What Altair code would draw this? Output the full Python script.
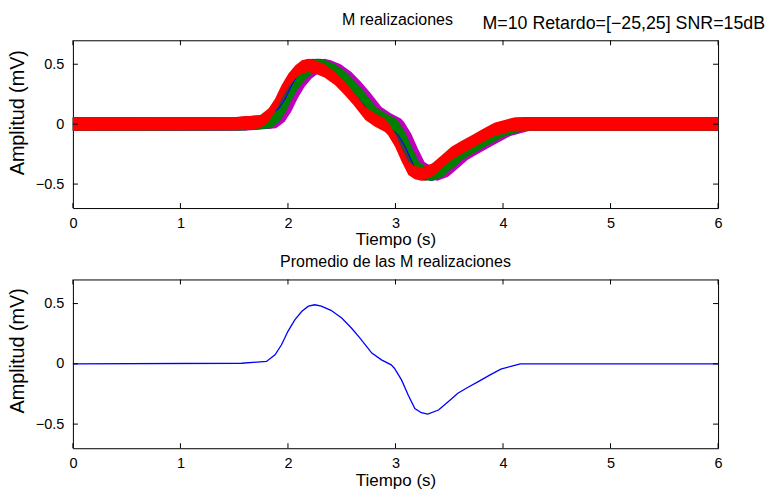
import altair as alt
import pandas as pd

# ---- data ----
# averaged trace (lower panel), also the base shape of each realization
t_base = [-0.2, 0.0, 1.57, 1.80, 1.88, 1.94, 2.00, 2.065, 2.13, 2.19, 2.25, 2.31, 2.40,
          2.50, 2.59, 2.67, 2.78, 2.87, 2.96, 2.99, 3.056, 3.118, 3.18, 3.24, 3.30,
          3.40, 3.49, 3.58, 3.675, 3.77, 3.88, 3.98, 4.10, 4.16, 6.0, 6.2]
v_base = [0, 0, 0.005, 0.02, 0.075, 0.158, 0.27, 0.367, 0.436, 0.478, 0.49, 0.478, 0.444,
          0.38, 0.297, 0.214, 0.089, 0.033, -0.008, -0.036, -0.133, -0.258, -0.37, -0.405, -0.417,
          -0.383, -0.314, -0.244, -0.194, -0.147, -0.092, -0.044, -0.014, 0, 0, 0]

# the 10 realizations: delay (s) of each one
series_names = ["r01", "r02", "r03", "r04", "r05", "r06", "r07", "r08", "r09", "r10"]
series_colors = ["#0000ff", "#008000", "#ff0000", "#00bfbf", "#bf00bf",
                 "#bfbf00", "#404040", "#0000ff", "#008000", "#ff0000"]
delays = [0.05, 0.02, -0.04, 0.0, 0.09, 0.01, -0.02, 0.03, 0.04, -0.06]
noise_half = 0.055  # half width of the noise band (mV)

xticks = [0, 1, 2, 3, 4, 5, 6]
yticks = [-0.5, 0, 0.5]

title_top = "M realizaciones"
info_text = "M=10 Retardo=[\u221225,25] SNR=15dB"
title_bottom = "Promedio de las M realizaciones"
x_title = "Tiempo (s)"
y_title = "Amplitud (mV)"

# ---- tables ----
rows = []
for name, d in zip(series_names, delays):
    for t, v in zip(t_base, v_base):
        rows.append({"serie": name, "t": t + d, "lo": v - noise_half, "hi": v + noise_half})
top_df = pd.DataFrame(rows)
avg_df = pd.DataFrame({"t": t_base, "lo": v_base})
xt_df = pd.DataFrame({"t": xticks})
yt_df = pd.DataFrame({"lo": yticks})
head_df = pd.DataFrame({"label": [title_top]})
info_df = pd.DataFrame({"label": [info_text]})

# ---- style ----
W, H1, H2 = 646, 168, 169
SANS = "Liberation Sans, Arial, Helvetica"

x_scale = alt.Scale(domain=[0, 6], nice=False, zero=False)
y_scale = alt.Scale(domain=[-0.7, 0.7], nice=False, zero=False)


def x_enc():
    return alt.X("t:Q", scale=x_scale, axis=alt.Axis(
        values=xticks, title=x_title, labelPadding=8, titleFontSize=17,
        titlePadding=2.5))


def y_enc(ty):
    return alt.Y("lo:Q", scale=y_scale, axis=alt.Axis(
        values=yticks, format="~g", title=y_title, labelPadding=9,
        titleFontSize=19.8, titlePadding=8, titleY=ty))


def tick_layers(H, ty):
    b = alt.Chart(xt_df).mark_rule(color="black").encode(
        x=x_enc(), y=alt.value(H), y2=alt.value(H - 5))
    t = alt.Chart(xt_df).mark_rule(color="black").encode(
        x=x_enc(), y=alt.value(0), y2=alt.value(5))
    l = alt.Chart(yt_df).mark_rule(color="black").encode(
        y=y_enc(ty), x=alt.value(0), x2=alt.value(5))
    r = alt.Chart(yt_df).mark_rule(color="black").encode(
        y=y_enc(ty), x=alt.value(W), x2=alt.value(W - 5))
    return [b, t, l, r]


bands = alt.Chart(top_df).mark_area(clip=True).encode(
    x=x_enc(),
    y=y_enc(72),
    y2="hi:Q",
    color=alt.Color("serie:N", scale=alt.Scale(domain=series_names, range=series_colors),
                    legend=None),
)

head = alt.Chart(head_df).mark_text(align="center", baseline="alphabetic", font=SANS,
                                    fontSize=16, color="black").encode(
    x=alt.value(W / 2 + 2), y=alt.value(-15), text="label:N")

info = alt.Chart(info_df).mark_text(align="right", baseline="alphabetic", font=SANS,
                                    fontSize=17.8, color="black").encode(
    x=alt.value(W + 47), y=alt.value(-11.5), text="label:N")

top = alt.layer(bands, *tick_layers(H1, 72), head, info).properties(width=W, height=H1)

avg_line = alt.Chart(avg_df).mark_line(clip=True, color="#0000ff", strokeWidth=1.3).encode(
    x=x_enc(),
    y=y_enc(71),
)

bottom = alt.layer(avg_line, *tick_layers(H2, 71)).properties(
    width=W, height=H2,
    title=alt.TitleParams(title_bottom, font=SANS, fontSize=16, fontWeight="normal",
                          offset=9, anchor="middle", color="black"))

chart = alt.vconcat(top, bottom, spacing=4.5).properties(
    padding={"left": 6, "top": 11, "right": 0, "bottom": 0},
    background="white",
).configure_view(
    stroke="black", strokeWidth=1
).configure_axis(
    labelFont=SANS, labelFontSize=14.5, labelColor="black", labelFlush=False,
    titleFont=SANS, titleFontWeight="normal", titleColor="black",
    ticks=False, tickSize=0, domain=False, grid=False,
)

chart.save("out.html", embed_options={"renderer": "svg", "actions": False})
